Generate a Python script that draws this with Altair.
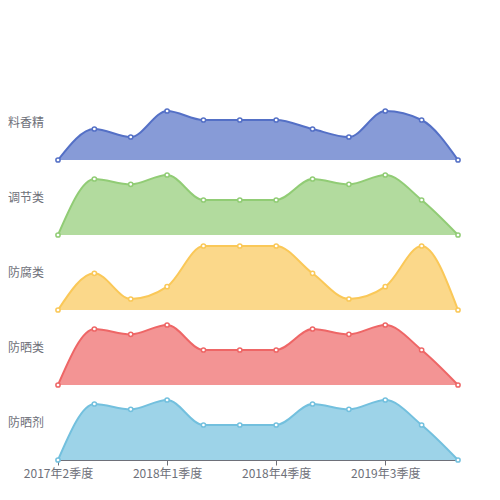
import json

import altair as alt
import pandas as pd

quarters = [
    "2017年2季度", "2017年3季度", "2017年4季度", "2018年1季度",
    "2018年2季度", "2018年3季度", "2018年4季度", "2019年1季度",
    "2019年2季度", "2019年3季度", "2019年4季度", "2020年1季度",
]
shown_ticks = [0, 3, 6, 9]  # every third quarter gets a label

series_names = ["料香精", "调节类", "防腐类", "防晒类", "防晒剂"]
series_colors = ["#5470c6", "#91cc75", "#fac858", "#ee6666", "#73c0de"]

spice = [0, 31, 23, 49, 40, 40, 40, 31, 23, 49, 40, 0]
regulator = [0, 56, 50.7, 60, 35, 35, 35, 56, 50.7, 60, 35, 0]
preservative = [0, 36.7, 11, 23.3, 64, 64, 64, 36.7, 11, 23.3, 64, 0]
sunscreen_type = [0, 56, 50.7, 60, 35, 35, 35, 56, 50.7, 60, 35, 0]
sunscreen_agent = [0, 56, 50.7, 60, 35, 35, 35, 56, 50.7, 60, 35, 0]

all_values = [spice, regulator, preservative, sunscreen_type, sunscreen_agent]

# each series sits in its own band of 75 units, first series on top
band = 75
n = len(series_names)

rows = []
for i, (name, vals) in enumerate(zip(series_names, all_values)):
    for qi, (q, v) in enumerate(zip(quarters, vals)):
        rows.append({"series": name, "qi": qi, "quarter": q, "value": v,
                     "slot": n - 1 - i})
df = pd.DataFrame(rows)
label_df = pd.DataFrame({"series": series_names,
                         "slot": [n - 1 - i for i in range(n)]})

font = "Noto Sans CJK SC"
grey = "#6e7079"

x_enc = alt.X(
    "qi:Q",
    scale=alt.Scale(domain=[0, len(quarters) - 1], nice=False, zero=False),
    axis=alt.Axis(
        values=shown_ticks,
        labelExpr=f"{json.dumps(quarters, ensure_ascii=False)}[datum.value]",
        labelAngle=0, title=None,
        domainColor=grey, tickColor=grey, labelColor=grey,
        labelFontSize=12, labelFont=font, tickSize=5, labelPadding=3,
        grid=False, labelOverlap=False, labelFlush=False,
    ),
)
y_scale = alt.Scale(domain=[0, band * n], nice=False)
color_enc = alt.Color(
    "series:N",
    scale=alt.Scale(domain=series_names, range=series_colors),
    legend=None,
)

base = (
    alt.Chart(df)
    .transform_calculate(
        top=f"datum.slot * {band} + datum.value",
        floor=f"datum.slot * {band}",
    )
    .encode(x=x_enc, color=color_enc)
)

area = base.mark_area(interpolate="monotone", opacity=0.7).encode(
    y=alt.Y("top:Q", scale=y_scale, axis=None), y2="floor:Q"
)
line = base.mark_line(interpolate="monotone", strokeWidth=2).encode(
    y=alt.Y("top:Q", scale=y_scale, axis=None)
)
points = base.mark_point(
    shape="circle", filled=True, fill="white", size=18, strokeWidth=1.5, opacity=1
).encode(y=alt.Y("top:Q", scale=y_scale, axis=None), stroke=color_enc)

labels = (
    alt.Chart(label_df)
    .transform_calculate(mid=f"datum.slot * {band} + {band / 2}")
    .mark_text(align="left", baseline="middle", font=font, fontSize=12, color=grey)
    .encode(
        x=alt.value(-50),
        y=alt.Y("mid:Q", scale=y_scale, axis=None),
        text="series:N",
    )
)

chart = (
    alt.layer(area, line, points, labels)
    .properties(
        width=400, height=band * n,
        padding={"top": 77, "left": 0, "right": 10, "bottom": 5},
        background="white",
    )
    .configure_view(strokeWidth=0)
)

chart.save("out.html", embed_options={"renderer": "svg", "actions": False})
